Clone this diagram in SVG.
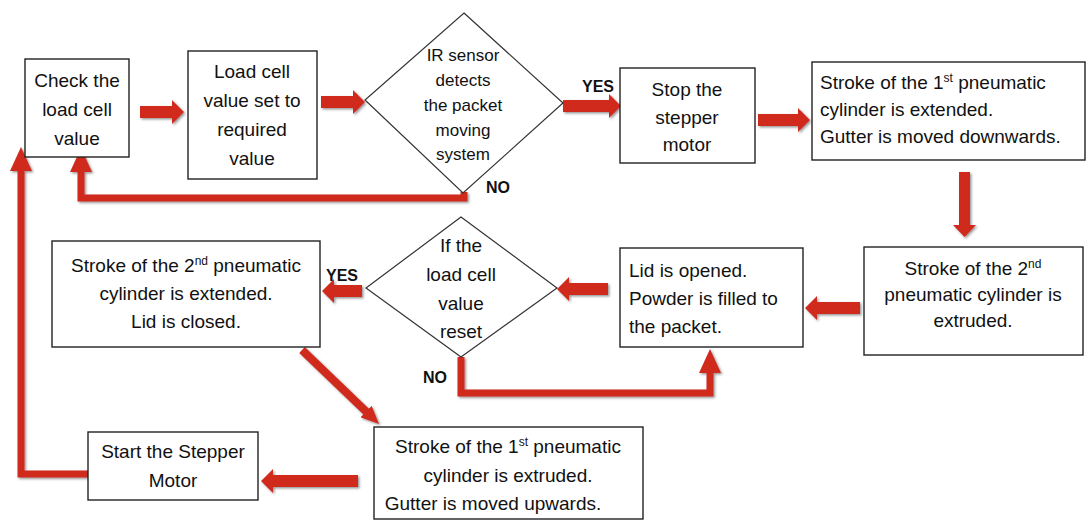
<svg xmlns="http://www.w3.org/2000/svg" width="1087" height="520" viewBox="0 0 1087 520">
<style>
.box{fill:#fff;stroke:#222;stroke-width:1.4}
.dia{fill:#fff;stroke:#333;stroke-width:1.2}
.t{font-family:"Liberation Sans",Arial,sans-serif;font-size:19px;fill:#111}
.c{text-anchor:middle}
.d{font-size:17px}
.lab{font-family:"Liberation Sans",Arial,sans-serif;font-size:16px;font-weight:bold;fill:#111}
.blk{fill:#d02a1e}
.ln{fill:none;stroke:#d02a1e;stroke-width:7;stroke-linejoin:miter}
.sup{font-size:12px}
</style>
<defs>
<filter id="sh" x="-10%" y="-10%" width="130%" height="130%">
<feDropShadow dx="1.5" dy="1.5" stdDeviation="1" flood-color="#444" flood-opacity="0.55"/>
</filter>
<marker id="head" viewBox="0 0 24 22" refX="2" refY="11" markerWidth="24" markerHeight="22" markerUnits="userSpaceOnUse" orient="auto">
<path d="M0,0 L24,11 L0,22 Z" fill="#d02a1e"/>
</marker>
<marker id="headS" viewBox="0 0 18 16" refX="2" refY="8" markerWidth="18" markerHeight="16" markerUnits="userSpaceOnUse" orient="auto">
<path d="M0,0 L18,8 L0,16 Z" fill="#d02a1e"/>
</marker>
</defs>
<rect width="1087" height="520" fill="#fff"/>

<g id="connectors" filter="url(#sh)">
<path class="blk" d="M140,106 H172 V100 L184,112 L172,124 V118 H140 Z"/>
<path class="blk" d="M321,96 H353 V90 L365,102 L353,114 V108 H321 Z"/>
<path class="blk" d="M563,100 H609 V94 L621,106 L609,118 V112 H563 Z"/>
<path class="blk" d="M758,114 H798 V108 L810,120 L798,132 V126 H758 Z"/>
<path class="blk" d="M959,172 H970 V225 H976 L964.5,237 L953,225 H959 Z"/>
<path class="blk" d="M860,302 H817 V296 L805,308 L817,320 V314 H860 Z"/>
<path class="blk" d="M608,283 H569 V277 L557,289 L569,301 V295 H608 Z"/>
<path class="blk" d="M362,285 H334 V279 L322,291 L334,303 V297 H362 Z"/>
<path class="blk" d="M358,475 H273 V469 L261,481 L273,493 V487 H358 Z"/>
<path class="ln" d="M464,192 V198 H81 V170" marker-end="url(#head)"/>
<path class="ln" d="M88,474 H21 V169" marker-end="url(#head)"/>
<path class="ln" d="M461,357 V393 H710 V371" marker-end="url(#head)"/>
<path class="ln" style="stroke-width:8" d="M302,350 L367.5,412.9" marker-end="url(#headS)"/>
</g>

<g id="check">
<rect class="box" x="25" y="59" width="104" height="98"/>
<text class="t c" x="77" y="87">Check the</text>
<text class="t c" x="77" y="116">load cell</text>
<text class="t c" x="77" y="145">value</text>
</g>

<g id="setvalue">
<rect class="box" x="188" y="51" width="129" height="128"/>
<text class="t c" x="252" y="78">Load cell</text>
<text class="t c" x="252" y="107">value set to</text>
<text class="t c" x="252" y="136">required</text>
<text class="t c" x="252" y="165">value</text>
</g>

<g id="irsensor">
<polygon class="dia" points="464,13 563,103 463,193 365,100"/>
<text class="t c d" x="463" y="61">IR sensor</text>
<text class="t c d" x="463" y="86">detects</text>
<text class="t c d" x="463" y="111">the packet</text>
<text class="t c d" x="463" y="136">moving</text>
<text class="t c d" x="463" y="160">system</text>
<text class="lab" x="582" y="92">YES</text>
<text class="lab" x="486" y="193">NO</text>
</g>

<g id="stop">
<rect class="box" x="620" y="68" width="135" height="95"/>
<text class="t c" x="687" y="96">Stop the</text>
<text class="t c" x="687" y="124">stepper</text>
<text class="t c" x="687" y="151">motor</text>
</g>

<g id="stroke1extend">
<rect class="box" x="812" y="62" width="273" height="98"/>
<text class="t" x="820" y="89">Stroke of the 1<tspan class="sup" baseline-shift="super">st</tspan> pneumatic</text>
<text class="t" x="820" y="116">cylinder is extended.</text>
<text class="t" x="820" y="143">Gutter is moved downwards.</text>
</g>

<g id="stroke2extrude">
<rect class="box" x="864" y="247" width="219" height="108"/>
<text class="t c" x="973" y="275">Stroke of the 2<tspan class="sup" baseline-shift="super">nd</tspan></text>
<text class="t c" x="973" y="301">pneumatic cylinder is</text>
<text class="t c" x="973" y="327">extruded.</text>
</g>

<g id="lid">
<rect class="box" x="620" y="248" width="183" height="99"/>
<text class="t" x="629" y="277">Lid is opened.</text>
<text class="t" x="629" y="305">Powder is filled to</text>
<text class="t" x="629" y="333">the packet.</text>
</g>

<g id="reset">
<polygon class="dia" points="461,217 557,288 461,357 366,288"/>
<text class="t c" x="461" y="252">If the</text>
<text class="t c" x="461" y="281">load cell</text>
<text class="t c" x="461" y="310">value</text>
<text class="t c" x="461" y="338">reset</text>
<text class="lab" x="326" y="281">YES</text>
<text class="lab" x="423" y="383">NO</text>
</g>

<g id="stroke2extend">
<rect class="box" x="52" y="241" width="268" height="106"/>
<text class="t c" x="186" y="272">Stroke of the 2<tspan class="sup" baseline-shift="super">nd</tspan> pneumatic</text>
<text class="t c" x="186" y="300">cylinder is extended.</text>
<text class="t c" x="186" y="328">Lid is closed.</text>
</g>

<g id="stroke1extrude">
<rect class="box" x="374" y="427" width="269" height="92"/>
<text class="t c" x="508" y="453">Stroke of the 1<tspan class="sup" baseline-shift="super">st</tspan> pneumatic</text>
<text class="t c" x="508" y="482">cylinder is extruded.</text>
<text class="t c" x="493" y="510">Gutter is moved upwards.</text>
</g>

<g id="start">
<rect class="box" x="88" y="432" width="170" height="68"/>
<text class="t c" x="173" y="458">Start the Stepper</text>
<text class="t c" x="173" y="487">Motor</text>
</g>
</svg>
